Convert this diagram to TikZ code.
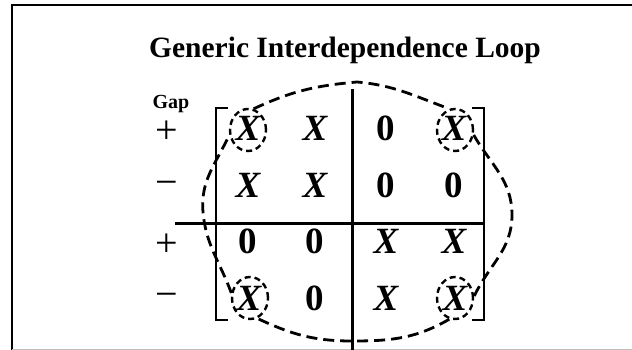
\documentclass[tikz,border=0pt]{standalone}
\usepackage{fontspec}
\setmainfont{Liberation Serif}
\usetikzlibrary{shapes.geometric}
\begin{document}
\begin{tikzpicture}[x=1pt,y=-1pt,
  cell/.style={font=\fontsize{37}{37}\selectfont\bfseries, inner sep=0pt, anchor=base},
  xcell/.style={cell, font=\fontsize{37}{37}\selectfont\bfseries\itshape},
  sign/.style={font=\fontsize{40}{40}\selectfont, inner sep=0pt},
  ring/.style={draw, ellipse, dash pattern=on 6pt off 4pt, line width=2.4pt, minimum width=36pt, minimum height=42pt, inner sep=0pt},
  loopline/.style={dash pattern=on 11pt off 6pt, line width=2.8pt},
  rule/.style={line width=3pt},
  brk/.style={line width=2pt}]
\useasboundingbox (0,0) rectangle (632,350);
% frame
\draw[line width=2.5pt] (12,350) -- (12,5) -- (632,5);
\draw[gray!50, line width=1pt] (12,349) -- (632,349);
% title
\node[font=\fontsize{29.5}{29.5}\selectfont\bfseries, anchor=base, inner sep=0pt] (title) at (345,58) {Generic Interdependence Loop};
\node[font=\fontsize{20}{20}\selectfont\bfseries, anchor=base, inner sep=0pt] (gap) at (171,109) {Gap};
% signs
\node[sign] (s1) at (167,132) {+};
\node[sign] (s2) at (167,188) {−};
\node[sign] (s3) at (167,245) {+};
\node[sign] (s4) at (167,300) {−};
% rules
\coordinate (vt) at (352,89);
\coordinate (vb) at (352,350);
\coordinate (hl) at (175,223);
\coordinate (hr) at (485,223);
\draw[rule] (vt) -- (vb);
\draw[rule] (hl) -- (hr);
% brackets
\draw[brk] (228,108) -- (216,108) -- (216,320) -- (228,320);
\draw[brk] (472,108) -- (484,108) -- (484,320) -- (472,320);
% cells
\node[xcell] (c11) at (248,141) {X};
\node[xcell] (c12) at (315,141) {X};
\node[cell]  (c13) at (386,141) {0};
\node[xcell] (c14) at (454,141) {X};
\node[xcell] (c21) at (248,197) {X};
\node[xcell] (c22) at (315,197) {X};
\node[cell]  (c23) at (386,197) {0};
\node[cell]  (c24) at (454,197) {0};
\node[cell]  (c31) at (248,253) {0};
\node[cell]  (c32) at (315,253) {0};
\node[xcell] (c33) at (386,253) {X};
\node[xcell] (c34) at (454,253) {X};
\node[xcell] (c41) at (249,310) {X};
\node[cell]  (c42) at (315,310) {0};
\node[xcell] (c43) at (386,310) {X};
\node[xcell] (c44) at (455,310) {X};
% rings
\node[ring] (o11) at (248,130) {};
\node[ring] (o14) at (455,130) {};
\node[ring] (o41) at (250,298) {};
\node[ring] (o44) at (455,298) {};
% loop
\coordinate (ptop) at (357,82);
\coordinate (pright) at (512,215);
\coordinate (pbot) at (352,341);
\coordinate (pleft) at (203,212);
\draw[loopline] (o11.75) to[out=25,in=185] (ptop) to[out=-5,in=160] (o14.105);
\draw[loopline] (o14.-15) to[out=-60,in=90] (pright) to[out=-90,in=65] (o44.5);
\draw[loopline] (o44.-105) to[out=-150,in=0] (pbot) to[out=180,in=-25] (o41.-70);
\draw[loopline] (o41.165) to[out=110,in=-85] (pleft) to[out=95,in=-115] (o11.195);
\end{tikzpicture}
\end{document}
